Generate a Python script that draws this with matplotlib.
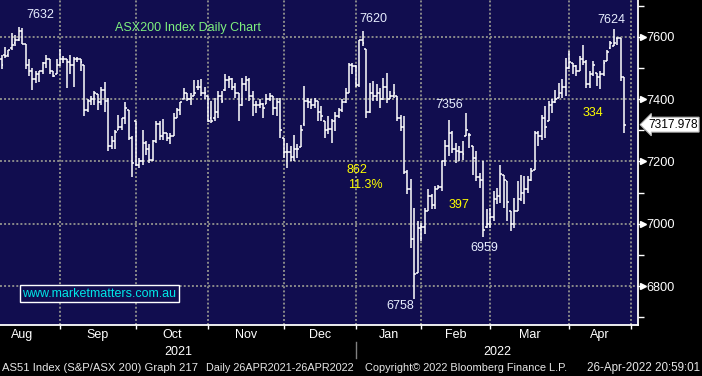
import numpy as np
import matplotlib
matplotlib.use("Agg")  # headless
import matplotlib.pyplot as plt
import matplotlib.transforms as mtransforms
from matplotlib.collections import LineCollection
from matplotlib.lines import Line2D

plt.rcParams['font.family'] = ['Liberation Sans', 'DejaVu Sans']

# months on the axis, trading days per month, first bar is 6th trading day of Aug
month_names = ["Aug", "Sep", "Oct", "Nov", "Dec", "Jan", "Feb", "Mar", "Apr"]
trading_days = [22, 22, 21, 22, 21, 19, 20, 23, 18]
skipped_days = 5
years = ["2021", "2022"]

# daily OHLC (Aug-21 .. 26-Apr-22)
opens = [
    7530, 7540, 7540, 7565, 7580, 7590, 7620, 7578, 7510, 7490, 7465, 7480, 7490, 7515, 7530, 7490, 7480,
    7510, 7530, 7530, 7520, 7510, 7530, 7528, 7510, 7365, 7395, 7400, 7415, 7390, 7430, 7395, 7250, 7265, 7300, 7310, 7340, 7365, 7275,
    7330, 7190, 7200, 7260, 7240, 7205, 7265, 7320, 7280, 7290, 7275, 7280, 7340, 7365, 7400, 7420, 7400, 7410, 7440, 7440, 7420,
    7410, 7340, 7340, 7360, 7410, 7430, 7460, 7465, 7440, 7420, 7380, 7450, 7460, 7410, 7380, 7380, 7385, 7385, 7400, 7410, 7370, 7390,
    7276, 7230, 7230, 7215, 7240, 7245, 7320, 7395, 7390, 7380, 7393, 7360, 7330, 7300, 7305, 7330, 7345, 7365, 7390, 7420, 7510,
    7505, 7445, 7590, 7562, 7360, 7420, 7410, 7420, 7400, 7440, 7400, 7410, 7410, 7340, 7310, 7165, 7110, 6950, 6842,
    6985, 6990, 7040, 7090, 7060, 7110, 7118, 7200, 7250, 7290, 7240, 7235, 7230, 7280, 7285, 7248, 7210, 7150, 7140, 6990,
    7000, 7020, 7080, 7090, 7157, 7136, 7040, 7000, 7040, 7080, 7100, 7110, 7140, 7174, 7290, 7280, 7340, 7329, 7380, 7390, 7404, 7420, 7440,
    7500, 7516, 7505, 7490, 7530, 7520, 7450, 7480, 7484, 7470, 7480, 7522, 7565, 7570, 7597, 7595, 7470,
]
highs = [
    7543, 7567, 7559, 7611, 7605, 7631, 7629, 7578, 7530, 7500, 7490, 7490, 7520, 7540, 7530, 7490, 7530,
    7560, 7538, 7530, 7540, 7535, 7535, 7530, 7510, 7400, 7410, 7425, 7415, 7440, 7456, 7403, 7280, 7300, 7350, 7340, 7390, 7365, 7280,
    7331, 7210, 7300, 7265, 7255, 7270, 7330, 7330, 7335, 7290, 7290, 7355, 7370, 7390, 7435, 7420, 7420, 7460, 7460, 7465, 7440,
    7410, 7393, 7404, 7425, 7425, 7480, 7475, 7468, 7452, 7420, 7468, 7475, 7468, 7425, 7393, 7400, 7388, 7415, 7420, 7410, 7404, 7404,
    7276, 7260, 7250, 7286, 7255, 7318, 7442, 7404, 7400, 7404, 7393, 7377, 7330, 7345, 7335, 7360, 7372, 7400, 7436, 7516, 7515,
    7510, 7590, 7620, 7562, 7452, 7458, 7447, 7436, 7468, 7484, 7425, 7447, 7410, 7350, 7345, 7174, 7142, 7050, 7010,
    7003, 7051, 7110, 7094, 7120, 7125, 7200, 7269, 7333, 7296, 7258, 7248, 7264, 7354, 7290, 7248, 7232, 7163, 7200, 7046,
    7051, 7104, 7115, 7189, 7157, 7136, 7040, 7083, 7136, 7157, 7152, 7153, 7180, 7297, 7297, 7350, 7377, 7393, 7400, 7430, 7452, 7463, 7532,
    7554, 7516, 7511, 7538, 7575, 7524, 7490, 7522, 7484, 7490, 7527, 7559, 7586, 7624, 7597, 7597, 7470,
]
lows = [
    7497, 7532, 7536, 7559, 7570, 7586, 7578, 7495, 7473, 7430, 7452, 7455, 7480, 7500, 7480, 7470, 7480,
    7505, 7515, 7436, 7480, 7440, 7520, 7490, 7345, 7360, 7380, 7380, 7365, 7380, 7360, 7234, 7240, 7240, 7300, 7300, 7320, 7270, 7149,
    7185, 7180, 7190, 7220, 7195, 7200, 7260, 7270, 7270, 7265, 7255, 7280, 7340, 7350, 7400, 7395, 7380, 7410, 7430, 7410, 7400,
    7325, 7324, 7330, 7340, 7388, 7425, 7436, 7430, 7404, 7330, 7378, 7425, 7394, 7345, 7356, 7372, 7340, 7383, 7394, 7350, 7345, 7276,
    7212, 7180, 7200, 7200, 7212, 7245, 7313, 7372, 7367, 7372, 7330, 7330, 7276, 7287, 7260, 7297, 7340, 7360, 7388, 7420, 7480,
    7440, 7440, 7570, 7340, 7356, 7393, 7393, 7372, 7398, 7388, 7400, 7404, 7329, 7297, 7158, 7094, 6923, 6758, 6842,
    6945, 6966, 7040, 7046, 7046, 7110, 7104, 7184, 7216, 7227, 7195, 7200, 7205, 7280, 7243, 7157, 7136, 7115, 6959, 6987,
    6987, 7009, 7062, 7067, 7051, 7009, 6977, 6987, 7040, 7072, 7062, 7100, 7137, 7174, 7249, 7270, 7276, 7329, 7356, 7388, 7404, 7404, 7410,
    7495, 7479, 7474, 7490, 7511, 7436, 7436, 7474, 7442, 7431, 7474, 7522, 7560, 7570, 7572, 7458, 7292,
]
closes = [
    7508, 7538, 7559, 7575, 7590, 7620, 7578, 7510, 7490, 7465, 7480, 7490, 7515, 7530, 7490, 7475, 7510,
    7530, 7530, 7520, 7510, 7530, 7528, 7520, 7365, 7395, 7400, 7420, 7390, 7430, 7395, 7250, 7265, 7295, 7310, 7340, 7370, 7275, 7195,
    7190, 7200, 7260, 7240, 7205, 7265, 7320, 7280, 7290, 7275, 7280, 7340, 7365, 7390, 7420, 7400, 7405, 7420, 7440, 7420, 7420,
    7330, 7330, 7360, 7410, 7395, 7460, 7465, 7440, 7420, 7380, 7450, 7460, 7410, 7380, 7380, 7385, 7370, 7400, 7410, 7370, 7390, 7300,
    7230, 7230, 7215, 7240, 7240, 7300, 7395, 7390, 7380, 7395, 7360, 7345, 7300, 7305, 7330, 7345, 7365, 7390, 7420, 7510, 7505,
    7445, 7590, 7580, 7360, 7420, 7410, 7420, 7400, 7440, 7400, 7410, 7420, 7340, 7310, 7165, 7110, 6950, 6840, 6985,
    6990, 7040, 7090, 7060, 7110, 7118, 7200, 7250, 7290, 7240, 7235, 7230, 7225, 7300, 7285, 7210, 7150, 7140, 6980, 7000,
    7020, 7080, 7090, 7160, 7140, 7070, 7000, 7040, 7080, 7100, 7110, 7140, 7170, 7290, 7280, 7340, 7310, 7380, 7390, 7400, 7420, 7440, 7500,
    7520, 7505, 7490, 7530, 7520, 7450, 7480, 7510, 7470, 7480, 7515, 7550, 7580, 7580, 7595, 7470, 7318,
]
last_price = 7317.978

y_major = [6800, 7000, 7200, 7400, 7600]
y_minor = [6700, 6900, 7100, 7300, 7500, 7700]

BG = "#110d4f"
GRID = "#8a8a8a"

o, h, l, c = (np.array(a, dtype=float) for a in (opens, highs, lows, closes))
x = np.arange(len(c))
month_starts = np.cumsum([0] + trading_days) - skipped_days

fig = plt.figure(figsize=(7.02, 3.76), dpi=100, facecolor="black")
ax = fig.add_axes([0, 1 - 325 / 376, 638 / 702, 325 / 376])
ax.set_facecolor(BG)
ax.set_xlim(-0.44, 185.0)
ax.set_ylim(6675, 7718)

# grid
for v in y_major:
    ax.axhline(v, color=GRID, lw=1.4, ls=(0, (1, 1.1)), zorder=1)
for s in month_starts[1:]:
    ax.axvline(s, color=GRID, lw=1.4, ls=(0, (1, 1.1)), zorder=1)

# OHLC bars
w = 0.5
segs = []
for xi, oi, hi, li, ci in zip(x, o, h, l, c):
    segs.append([(xi, li), (xi, hi)])
    segs.append([(xi - w, oi), (xi, oi)])
    segs.append([(xi, ci), (xi + w, ci)])
ax.add_collection(LineCollection(segs, colors="white", linewidths=1.1, zorder=3))

# axes styling
for side in ("top", "left"):
    ax.spines[side].set_visible(False)
for side in ("bottom", "right"):
    ax.spines[side].set_color("white")
    ax.spines[side].set_linewidth(1.3)
ax.yaxis.tick_right()
ax.set_yticks(y_major)
ax.set_yticks(y_minor, minor=True)
ax.tick_params(axis="y", which="major", length=0, pad=6, labelcolor="white", labelsize=9.2)
ax.tick_params(axis="y", which="minor", length=4, width=1, color="white", direction="out")
ax.set_xticks(month_starts[1:])
ax.tick_params(axis="x", which="major", length=3, width=1, color="white", direction="out", labelbottom=False)

ytr = ax.get_yaxis_transform()
ax.plot([1.0 + 5 / 638] * len(y_major), y_major, ls="none", marker=">", ms=5, color="white",
        transform=ytr, clip_on=False)
ax.plot([[1.0] * len(y_major), [1.0 + 5 / 638] * len(y_major)], [y_major, y_major],
        color="white", lw=1, transform=ytr, clip_on=False)

# last price tag
ax.text(1.0 + 10 / 638, last_price, f"{last_price:.3f}", transform=ytr, ha="left", va="center",
        fontsize=8.6, color="black",
        bbox=dict(boxstyle="larrow,pad=0.12", fc="white", ec="#bbbbbb", lw=0.8))

# month / year labels
xfig = mtransforms.blended_transform_factory(ax.transData, fig.transFigure)
for i, name in enumerate(month_names):
    fig.text((month_starts[i] + month_starts[i + 1]) / 2, 1 - 335 / 376, name, transform=xfig,
             ha="center", va="center", color="white", fontsize=9)
jan = month_starts[month_names.index("Jan")]
fig.text((-0.44 + jan) / 2, 1 - 352 / 376, years[0], transform=xfig, ha="center", va="center",
         color="white", fontsize=9)
fig.text((jan + 185.0) / 2, 1 - 352 / 376, years[1], transform=xfig, ha="center", va="center",
         color="white", fontsize=9)
fig.add_artist(Line2D([jan, jan], [1 - 358 / 376, 1 - 342 / 376], transform=xfig, color="#808080", lw=1))

# footer
footer = [
    (2, "left", 8.1, "AS51 Index (S&P/ASX 200) Graph 217"),
    (206, "left", 7.8, "Daily 26APR2021-26APR2022"),
    (365, "left", 7.9, "Copyright\u00a9 2022 Bloomberg Finance L.P."),
    (700, "right", 8.4, "26-Apr-2022 20:59:01"),
]
for px, ha, fs, txt in footer:
    fig.text(px / 702, 1 - 368 / 376, txt, ha=ha, va="center", color="#e6e6e6", fontsize=fs)

# annotations
white_lbl = "#e8eeff"
ax.text(11.2, 7670, "7632", color=white_lbl, fontsize=9, ha="center", va="center")
ax.text(108, 7657, "7620", color=white_lbl, fontsize=9, ha="center", va="center")
ax.text(130, 7381, "7356", color=white_lbl, fontsize=9, ha="center", va="center")
ax.text(177.2, 7654, "7624", color=white_lbl, fontsize=9, ha="center", va="center")
ax.text(140.3, 6921, "6959", color=white_lbl, fontsize=9, ha="center", va="center")
ax.text(116, 6735, "6758", color=white_lbl, fontsize=9, ha="center", va="center")
ax.text(33, 7628, "ASX200 Index Daily Chart", color="#7ef07e", fontsize=9, ha="left", va="center")
ax.text(172, 7355, "334", color="#ffff00", fontsize=9, ha="center", va="center")
ax.text(103.3, 7172, "862", color="#ffff00", fontsize=9, ha="center", va="center")
ax.text(105.7, 7124, "11.3%", color="#ffff00", fontsize=9, ha="center", va="center")
ax.text(133, 7060, "397", color="#ffff00", fontsize=9, ha="center", va="center")
ax.text(28.4, 6776, "www.marketmatters.com.au", color="#00e8e8", fontsize=9, ha="center", va="center",
        bbox=dict(boxstyle="square,pad=0.2", fc=BG, ec="white", lw=1))

fig.savefig("out.png", dpi=100, facecolor="black")
